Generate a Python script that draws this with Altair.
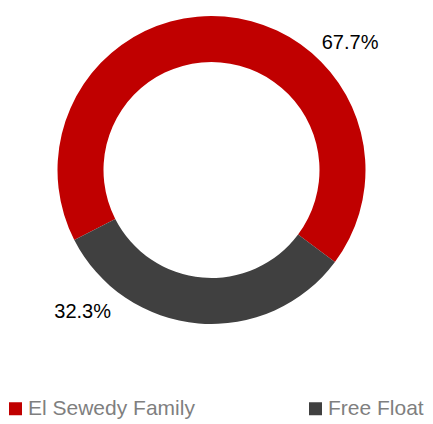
import math
import altair as alt
import pandas as pd

categories = ["El Sewedy Family", "Free Float"]
shares = [67.7, 32.3]
labels = ["67.7%", "32.3%"]
colors = ["#C00000", "#404040"]
order = [0, 1]

df = pd.DataFrame({"category": categories, "share": shares, "label": labels, "order": order})

start = math.radians(243)
theta_scale = alt.Scale(domain=[0, 100], range=[start, start + 2 * math.pi])

stacked = (
    alt.Chart(df)
    .transform_stack(stack="share", as_=["s0", "s1"], groupby=[], sort=[alt.SortField("order")])
    .transform_calculate(mid="(datum.s0 + datum.s1) / 2")
)

arcs = stacked.mark_arc(radius=154, radius2=108).encode(
    theta=alt.Theta("s0:Q", scale=theta_scale),
    theta2="s1:Q",
    color=alt.Color(
        "category:N",
        scale=alt.Scale(domain=categories, range=colors),
        legend=alt.Legend(
            title=None, orient="none", legendX=-3, legendY=390, direction="horizontal",
            symbolType="square", symbolSize=169, symbolStrokeWidth=0,
            labelFont="Liberation Sans", labelFontSize=21, labelColor="#7F7F7F",
            labelOffset=2, columnPadding=110, padding=0, labelLimit=400,
        ),
    ),
)

def label_layer(cat, r, off):
    return stacked.transform_filter(alt.datum.category == cat).mark_text(
        radius=r, thetaOffset=off, font="Liberation Sans Narrow, Liberation Sans", fontSize=20,
        color="#000000", align="center", baseline="middle",
    ).encode(theta=alt.Theta("mid:Q", scale=theta_scale), text="label:N")

lab_red = label_layer(categories[0], 188, 0.744)
lab_gray = label_layer(categories[1], 192, 0.651)

chart = (
    alt.layer(arcs, lab_red, lab_gray)
    .properties(width=407, height=324, padding={"left": -3, "top": 0, "right": 0, "bottom": 0})
    .configure_view(stroke=None)
)

chart.save("out.html", embed_options={"renderer": "svg", "actions": False})
